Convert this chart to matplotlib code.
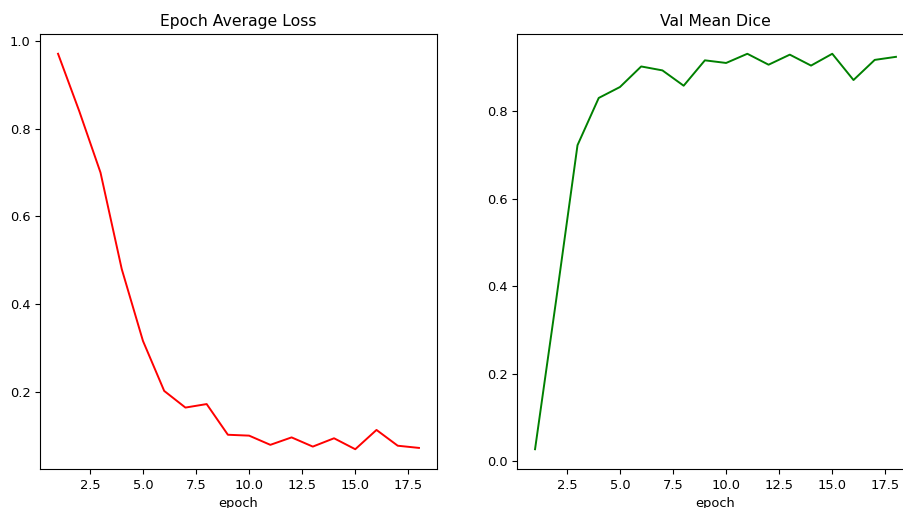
import matplotlib
matplotlib.use("Agg")
import matplotlib.pyplot as plt

epochs = list(range(1, 19))
epoch_loss = [0.971, 0.840, 0.700, 0.480, 0.316, 0.202, 0.164, 0.172, 0.102,
              0.100, 0.079, 0.096, 0.075, 0.094, 0.069, 0.113, 0.077, 0.072]
val_dice = [0.027, 0.370, 0.722, 0.830, 0.855, 0.902, 0.893, 0.858, 0.916,
            0.910, 0.931, 0.906, 0.929, 0.904, 0.931, 0.871, 0.917, 0.924]

plt.rcParams["font.size"] = 9.4
plt.rcParams["lines.linewidth"] = 1.4

fig = plt.figure(figsize=(9.04, 5.08), dpi=100)

# the reference is a crop of a wider 12x6 figure, so place axes by hand
ax1 = fig.add_axes([40 / 904, 39 / 508, 397 / 904, 435 / 508])
ax1.set_title("Epoch Average Loss")
ax1.set_xlabel("epoch")
ax1.plot(epochs, epoch_loss, color="red")

ax2 = fig.add_axes([517 / 904, 39 / 508, 397 / 904, 435 / 508])
ax2.set_title("Val Mean Dice")
ax2.set_xlabel("epoch")
ax2.plot(epochs, val_dice, color="green")

fig.savefig("out.png", dpi=100)
